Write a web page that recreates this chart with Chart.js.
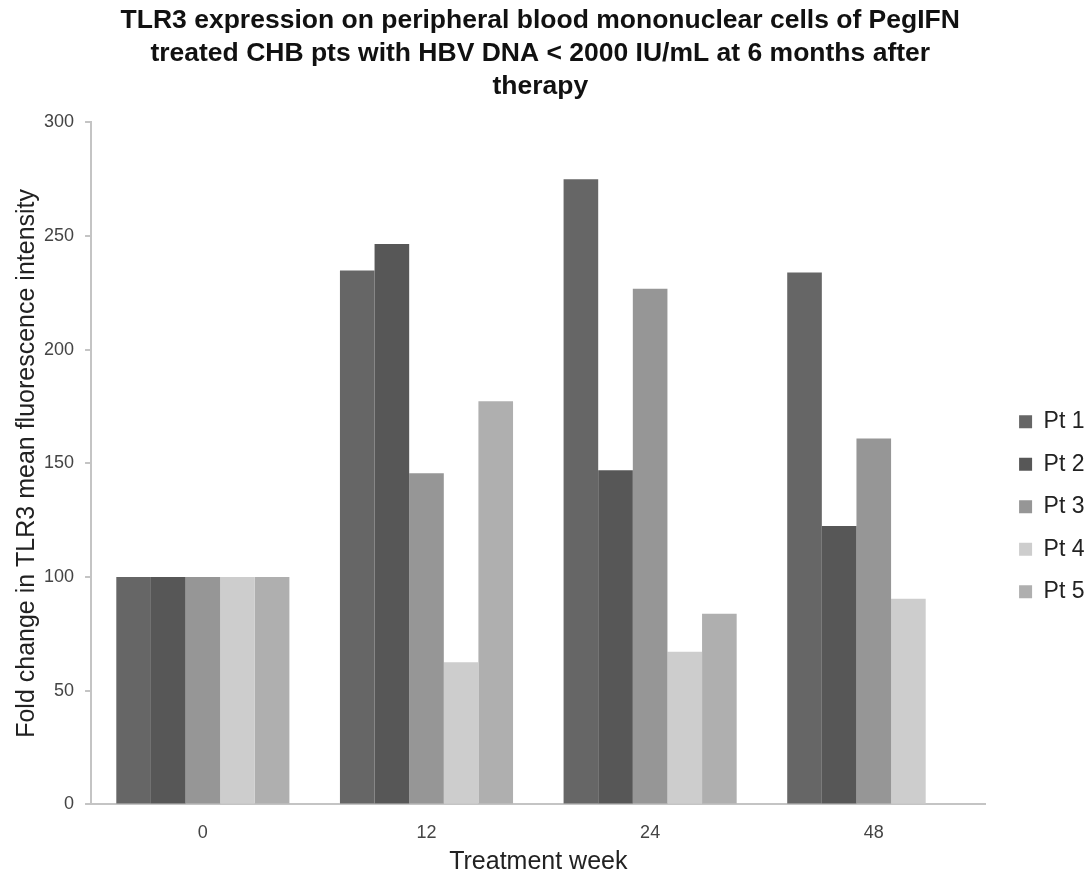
<!DOCTYPE html>
<html>
<head>
<meta charset="utf-8">
<script src="https://cdn.jsdelivr.net/npm/chart.js@4/dist/chart.umd.min.js"></script>
<style>
  html, body { margin: 0; padding: 0; background: #ffffff; }
  #wrap { width: 1091px; height: 875px; }
</style>
</head>
<body>
<div id="wrap"><canvas id="chart" width="1091" height="875"></canvas></div>
<script>
// Treatment weeks on the x axis
const weeks = ['0', '12', '24', '48'];

// Fold change in TLR3 MFI per patient (week 0 = 100)
const pt1 = [100, 234.8, 275.0, 234.0];
const pt2 = [100, 246.5, 147.0, 122.5];
const pt3 = [100, 145.7, 226.8, 161.0];
const pt4 = [100, 62.5, 67.2, 90.5];
const pt5 = [100, 177.3, 83.9, null];

const seriesNames = ['Pt 1', 'Pt 2', 'Pt 3', 'Pt 4', 'Pt 5'];
const seriesValues = [pt1, pt2, pt3, pt4, pt5];
const seriesColors = ['#666666', '#575757', '#969696', '#cdcdcd', '#afafaf'];

const yTicks = [0, 50, 100, 150, 200, 250, 300];

const FONT = 'Liberation Sans, Arial, sans-serif';

const datasets = seriesNames.map((name, i) => ({
  label: name,
  data: seriesValues[i],
  backgroundColor: seriesColors[i],
  borderColor: seriesColors[i],
  borderWidth: 0,
  categoryPercentage: 0.774,
  barPercentage: 1.0
}));

// Nudge the legend a little further from the plot area after layout
const legendOffset = {
  id: 'legendOffset',
  afterLayout(chart, args, opts) {
    const lg = chart.legend;
    if (lg) {
      lg.left += opts.dx;
      lg.right += opts.dx;
    }
  }
};

new Chart(document.getElementById('chart'), {
  type: 'bar',
  data: { labels: weeks, datasets: datasets },
  plugins: [legendOffset],
  options: {
    responsive: false,
    animation: false,
    layout: { padding: { left: 0, right: 10.5, top: 0, bottom: 0 } },
    plugins: {
      legendOffset: { dx: 14 },
      title: {
        display: true,
        text: [
          'TLR3 expression on peripheral blood mononuclear cells of PegIFN',
          'treated CHB pts with HBV DNA < 2000 IU/mL at 6 months after',
          'therapy'
        ],
        color: '#111111',
        font: { family: FONT, size: 26.5, weight: 'bold', lineHeight: 1.25 },
        padding: { top: 4, bottom: 19 }
      },
      legend: {
        position: 'right',
        align: 'center',
        title: {
          display: true,
          text: '',
          font: { family: FONT, size: 12 },
          padding: { top: 124, bottom: 0 }
        },
        labels: {
          color: '#222222',
          font: { family: FONT, size: 23 },
          boxWidth: 13,
          boxHeight: 13,
          padding: 19.5
        }
      },
      tooltip: { enabled: false }
    },
    scales: {
      x: {
        grid: { display: false, drawTicks: false },
        border: { display: true, color: '#c4c4c4', width: 2 },
        ticks: {
          color: '#444444',
          font: { family: FONT, size: 18 },
          padding: 18
        },
        title: {
          display: true,
          text: 'Treatment week',
          color: '#222222',
          font: { family: FONT, size: 25 },
          padding: { top: -15, bottom: -2 }
        }
      },
      y: {
        min: 0,
        max: 300,
        afterBuildTicks: (axis) => { axis.ticks = yTicks.map(v => ({ value: v })); },
        grid: { display: true, drawOnChartArea: false, drawTicks: true, tickLength: 6, color: '#c4c4c4', lineWidth: 2 },
        border: { display: true, color: '#c4c4c4', width: 2 },
        ticks: {
          color: '#444444',
          font: { family: FONT, size: 18 },
          padding: 11
        },
        title: {
          display: true,
          text: 'Fold change in TLR3 mean fluorescence intensity',
          color: '#222222',
          font: { family: FONT, size: 25 },
          padding: { top: 12, bottom: -9 }
        }
      }
    }
  }
});
</script>
</body>
</html>
